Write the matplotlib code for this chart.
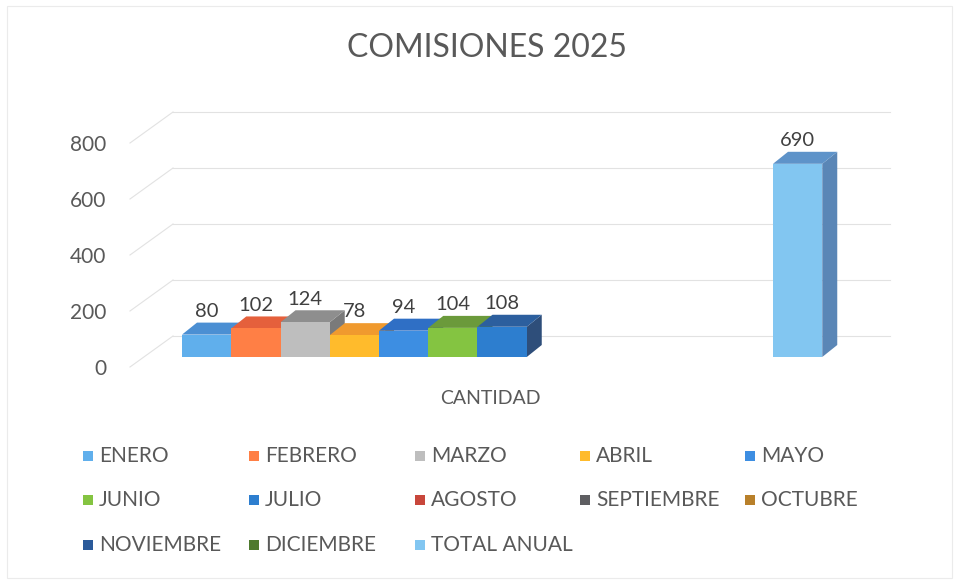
import numpy as np
import matplotlib
matplotlib.use("Agg")
import matplotlib.pyplot as plt
from matplotlib.patches import Polygon, Rectangle

plt.rcParams['font.family'] = ['Lato', 'DejaVu Sans']

# ---- data ----
series = ["ENERO", "FEBRERO", "MARZO", "ABRIL", "MAYO", "JUNIO", "JULIO",
          "AGOSTO", "SEPTIEMBRE", "OCTUBRE", "NOVIEMBRE", "DICIEMBRE", "TOTAL ANUAL"]
values = [80, 102, 124, 78, 94, 104, 108, np.nan, np.nan, np.nan, np.nan, np.nan, 690]
category = "CANTIDAD"
title = "COMISIONES 2025"
yticks = [0, 200, 400, 600, 800]

# ---- styles ----
front_colors = ["#60AFEC", "#FF7F45", "#BEBEBE", "#FFBB2C", "#3D8EE2", "#84C441", "#2D7ECF",
                "#C8463B", "#5E5E62", "#B8802A", "#2A5A9A", "#4E7A2E", "#82C6F1"]
top_colors = ["#4B8FD3", "#E5603C", "#8E8E8E", "#F09A2E", "#2F6FC5", "#6B9A3B", "#2C5F9E",
              "#A03A30", "#4A4A4A", "#946620", "#234A80", "#3E6224", "#5E93C9"]
side_colors = ["#3F7AB8", "#C85530", "#7A7A7A", "#D08A20", "#2A5FA8", "#5A8530", "#2E4E7A",
               "#8A3028", "#3A3A3A", "#7A5518", "#1C3C68", "#30501C", "#5A86B6"]

W, H = 957, 582
fig = plt.figure(figsize=(W / 100, H / 100), dpi=100)
fig.patch.set_facecolor("white")

# axes placement in pixels
ax_left, ax_right = 130, 890
y0_px, y800_px = 367, 143
bar0_px, bar_w_px = 182, 49.25
ax = fig.add_axes([ax_left / W, 1 - y0_px / H, (ax_right - ax_left) / W, (y0_px - y800_px) / H])
ax.set_ylim(0, 800)
ax.set_xlim((ax_left - bar0_px) / bar_w_px, (ax_right - bar0_px) / bar_w_px)
ax.set_facecolor("none")
for s in ax.spines.values():
    s.set_visible(False)

py = (y0_px - y800_px) / 800.0          # pixels per value unit
BASE = 10 / py                           # floor lift of the front faces
DX = 15 / bar_w_px                       # depth offset (x)
DY = 12 / py                             # depth offset (y)
WALL_DY = 31 / py
WALL_X = (173 - bar0_px) / bar_w_px
x_left, x_right = ax.get_xlim()

# gridlines (side wall + back wall)
for v in yticks:
    ax.plot([x_left, WALL_X], [v, v + WALL_DY], color="#E2E2E2", lw=0.8, zorder=1, clip_on=False)
    ax.plot([WALL_X, x_right], [v + WALL_DY, v + WALL_DY], color="#E2E2E2", lw=0.8, zorder=1, clip_on=False)

# y ticks
ax.set_yticks(yticks)
ax.set_yticklabels([str(t) for t in yticks], fontsize=15, color="#595959")
ax.tick_params(axis="y", length=0, pad=17)
ax.set_xticks([])

# bars
xpos = np.arange(len(series))
bars = ax.bar(xpos, values, width=1.0, bottom=BASE, align="edge", clip_on=False)
for i, (v, rect) in enumerate(zip(values, bars)):
    z = 3 + 3 * i
    rect.set_facecolor(front_colors[i])
    rect.set_edgecolor("none")
    rect.set_zorder(z + 2)
    if np.isnan(v):
        continue
    x = xpos[i]
    top = BASE + v
    side = Polygon([(x + 1, BASE), (x + 1 + DX, BASE + DY), (x + 1 + DX, top + DY), (x + 1, top)],
                   closed=True, facecolor=side_colors[i], edgecolor="none", zorder=z, clip_on=False)
    topf = Polygon([(x, top), (x + 1, top), (x + 1 + DX, top + DY), (x + DX, top + DY)],
                   closed=True, facecolor=top_colors[i], edgecolor="none", zorder=z + 1, clip_on=False)
    ax.add_patch(side)
    ax.add_patch(topf)
    ax.annotate(f"{int(v)}", (x + 0.5, top + DY), xytext=(0, 2), textcoords="offset points",
                ha="center", va="bottom", fontsize=14.5, color="#404040", zorder=100,
                annotation_clip=False)

# category label
fig.text(490 / W, 1 - 398 / H, category, ha="center", va="center", fontsize=14, color="#595959")

# title
fig.text(487 / W, 1 - 48 / H, title, ha="center", va="center", fontsize=23, color="#595959")

# legend (5 columns, equal spacing)
col_x = [83, 249, 415, 580, 745]
row_y = [456, 500, 545]
for i, name in enumerate(series):
    r, c = divmod(i, 5)
    mx, my = col_x[c], row_y[r]
    fig.add_artist(Rectangle((mx / W, 1 - (my + 5) / H), 10 / W, 10 / H,
                             transform=fig.transFigure, facecolor=front_colors[i], edgecolor="none"))
    fig.text((mx + 16) / W, 1 - my / H, name, ha="left", va="center", fontsize=15, color="#595959")

# faint chart-area border
fig.add_artist(Rectangle((7 / W, 4 / H), (W - 12) / W, (H - 10) / H, transform=fig.transFigure,
                         facecolor="none", edgecolor="#EBEBEB", lw=0.8))

fig.savefig("out.png", dpi=100)
